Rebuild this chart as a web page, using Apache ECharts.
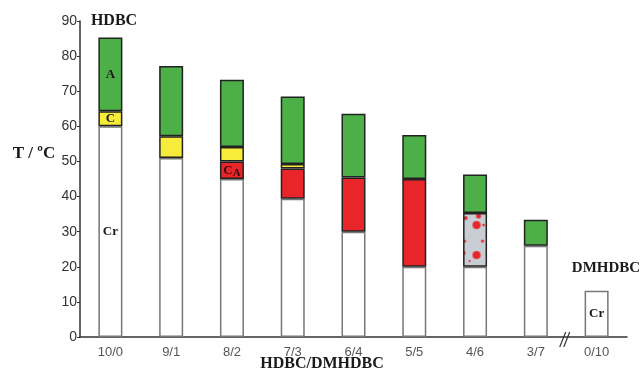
<!DOCTYPE html>
<html><head><meta charset="utf-8">
<script src="https://cdn.jsdelivr.net/npm/echarts@6/dist/echarts.min.js"></script>
<style>html,body{margin:0;padding:0;background:#fff}#c{width:642px;height:376px}</style>
</head><body><div id="c"></div>
<script>
// HDBC/DMHDBC composition
var categories = ['10/0','9/1','8/2','7/3','6/4','5/5','4/6','3/7','0/10'];
// upper temperature limit (°C) of each phase; null = phase absent
var crTop   = [60, 51, 45, 39.4, 30, 20, 20, 26, 13.2];
var caTop   = [null, null, 50, 48, 45.4, 45, null, null, null];
var mTop    = [null, null, null, null, null, null, 35.3, null, null];
var cTop    = [64.3, 57.2, 54.1, 49.3, null, null, null, null, null];
var aTop    = [85.3, 77.2, 73.3, 68.5, 63.6, 57.5, 46.3, 33.4, null];
var yTicks  = [0, 10, 20, 30, 40, 50, 60, 70, 80, 90];

var layers = [crTop, caTop, mTop, cTop, aTop];
function heights(idx) {
  return categories.map(function (_, i) {
    var top = layers[idx][i];
    if (top == null) return '-';
    var below = 0;
    for (var k = idx - 1; k >= 0; k--) { if (layers[k][i] != null) { below = layers[k][i]; break; } }
    return +(top - below).toFixed(2);
  });
}

// dotted pattern for the grey phase
var pc = document.createElement('canvas');
pc.width = 25; pc.height = 56;
var g = pc.getContext('2d');
g.fillStyle = '#c8ccd3'; g.fillRect(0, 0, 25, 56);
g.fillStyle = '#e8262a';
[[3,5,2],[16,3,2.5],[14,12,4],[21,12,1.3],[2,28,1.5],[20,28,1.5],[14,42,4],[7,48,1],[1,40,2]].forEach(function (d) {
  g.beginPath(); g.arc(d[0], d[1], d[2], 0, Math.PI * 2); g.fill();
});
var pattern = { image: pc, repeat: 'repeat' };

var serif = 'Liberation Serif';
function lab(text, extra) {
  return { show: true, position: 'inside', formatter: text, color: '#1a1a1a',
    fontFamily: serif, fontWeight: 'bold', fontSize: 13, rich: extra || {} };
}

var crData = heights(0).map(function (v, i) {
  return (i === 0 || i === 8) ? { value: v, label: lab('Cr') } : v;
});
var caData = heights(1).map(function (v, i) {
  if (i === 2) return { value: v, label: lab('{c|C}{s|A}', {
    c: { fontFamily: serif, fontWeight: 'bold', fontSize: 13, color: '#3a0a0a' },
    s: { fontFamily: serif, fontWeight: 'bold', fontSize: 11, color: '#3a0a0a', padding: [5, 0, 0, 0] } }) };
  return v;
});
var mData = heights(2);
var cData = heights(3).map(function (v, i) { return i === 0 ? { value: v, label: lab('C') } : v; });
var aData = heights(4).map(function (v, i) { return i === 0 ? { value: v, label: lab('A') } : v; });

function bar(name, data, color, border) {
  return { name: name, type: 'bar', stack: 'T', data: data, barWidth: 24,
    itemStyle: { color: color, borderColor: border, borderWidth: 1.5 }, silent: true };
}

var chart = echarts.init(document.getElementById('c'));
function buildSeries() {
  return [
    bar('Cr', crData, '#ffffff', '#777777'),
    bar('CA', caData, '#e8262a', '#222'),
    bar('M', mData, pattern, '#222'),
    bar('C', cData, '#f7ec3a', '#222'),
    bar('A', aData, '#4caf47', '#222')
  ];
}
chart.setOption({
  animation: false,
  grid: { left: 80, right: 15, top: 21, bottom: 39 },
  xAxis: {
    type: 'category', data: categories,
    axisLine: { lineStyle: { color: '#333', width: 1.5 } },
    axisTick: { length: 4, lineStyle: { color: '#999' } },
    axisLabel: { color: '#555', fontFamily: 'Liberation Sans', fontSize: 13, margin: 9 }
  },
  yAxis: {
    type: 'value', min: 0, max: 90, interval: 10,
    axisLine: { show: true, lineStyle: { color: '#333', width: 1.5 } },
    axisTick: { show: true, length: 3, lineStyle: { color: '#333' } },
    splitLine: { show: false },
    axisLabel: { color: '#333', fontFamily: 'Liberation Sans', fontSize: 14, margin: 3,
      formatter: function (v) { return yTicks.indexOf(v) >= 0 ? String(v) : ''; } }
  },
  series: buildSeries()
});

// align the dot pattern with the grey segment
var pTL = chart.convertToPixel({ seriesIndex: 2 }, [6, mTop[6]]);
pattern.x = pTL[0] - 12.5;
pattern.y = pTL[1];

var x7 = chart.convertToPixel({ xAxisIndex: 0 }, 7);
var x8 = chart.convertToPixel({ xAxisIndex: 0 }, 8);
var xb = (x7 + x8) / 2 - 1.5;
var y0 = chart.convertToPixel({ yAxisIndex: 0 }, 0);
function txt(t, x, y, size) {
  return { type: 'text', x: x, y: y,
    style: { text: t, font: 'bold ' + size + 'px "Liberation Serif"', fill: '#1a1a1a',
      textAlign: 'center', textVerticalAlign: 'middle' } };
}
chart.setOption({
  series: buildSeries(),
  graphic: [
    { type: 'line', shape: { x1: xb - 5, y1: y0 + 10, x2: xb + 1, y2: y0 - 5 }, style: { stroke: '#333', lineWidth: 1.2 } },
    { type: 'line', shape: { x1: xb - 1, y1: y0 + 10, x2: xb + 5, y2: y0 - 5 }, style: { stroke: '#333', lineWidth: 1.2 } },
    txt('HDBC', 114, 21, 16),
    txt('DMHDBC', 606, 268, 15),
    txt('T / ºC', 34, 154, 17),
    txt('HDBC/DMHDBC', 322, 364, 16)
  ]
});
</script></body></html>
